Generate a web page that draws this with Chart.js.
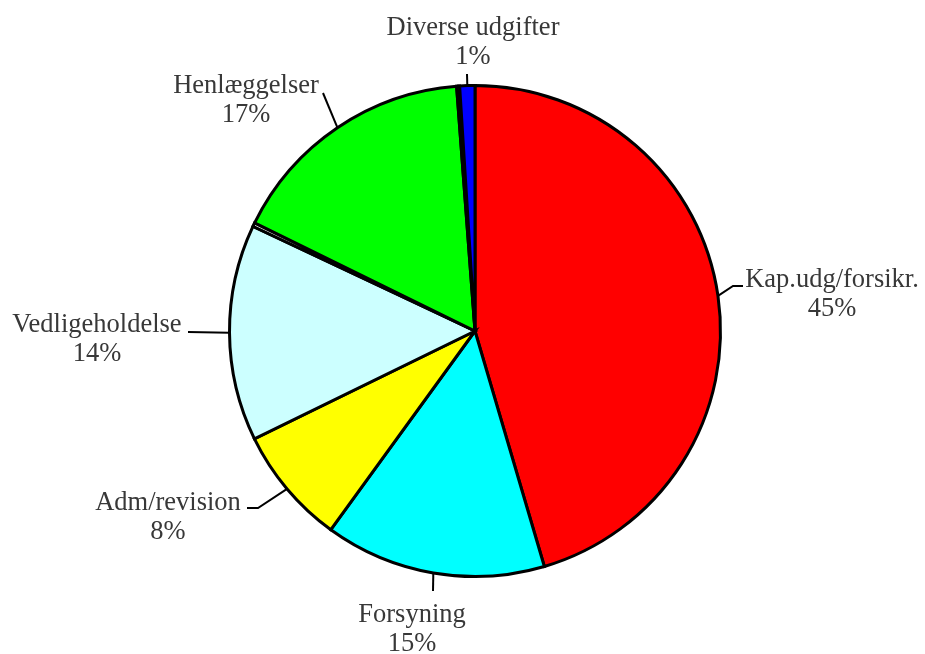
<!DOCTYPE html>
<html>
<head>
<meta charset="utf-8">
<script src="https://cdn.jsdelivr.net/npm/chart.js@4/dist/chart.umd.min.js"></script>
<style>
  body { margin: 0; background: #fff; }
  canvas { display: block; }
</style>
</head>
<body>
<canvas id="pie" width="925" height="654"></canvas>
<script>
// data, clockwise from 12 o'clock
const categories = ["Kap.udg/forsikr.", "Forsyning", "Adm/revision", "Vedligeholdelse", "", "Henlæggelser", "", "Diverse udgifter"];
const values = [45.6, 14.6, 7.8, 14.3, 0.25, 16.6, 0.2, 1.0];
const sliceColors = ["#ff0000", "#00ffff", "#ffff00", "#ccffff", "#ffffff", "#00ff00", "#ffffff", "#0000ff"];

// label layout: text centre x, first baseline y, leader points after the arc edge
const labelLayout = [
  { x: 832, y: 287, leader: [[733, 286], [743, 286]] },
  { x: 412, y: 622, leader: [[433, 591]] },
  { x: 168, y: 510, leader: [[258, 508], [247, 508]] },
  { x: 97, y: 332, leader: [[188, 332]] },
  null,
  { x: 246, y: 93, leader: [[323, 93]] },
  null,
  { x: 473, y: 35, leader: [[467, 74]] }
];

const total = values.reduce((a, b) => a + b, 0);

const labelPlugin = {
  id: "pieLabels",
  afterDraw(chart) {
    const ctx = chart.ctx;
    const arcs = chart.getDatasetMeta(0).data;
    ctx.save();
    arcs.forEach((arc, i) => {
      const lay = labelLayout[i];
      if (!lay || !categories[i]) return;
      const p = arc.getProps(["x", "y", "startAngle", "endAngle", "outerRadius"], true);
      const mid = (p.startAngle + p.endAngle) / 2;
      // leader line from the slice edge
      ctx.beginPath();
      ctx.moveTo(p.x + Math.cos(mid) * p.outerRadius, p.y + Math.sin(mid) * p.outerRadius);
      lay.leader.forEach(pt => ctx.lineTo(pt[0], pt[1]));
      ctx.strokeStyle = "#000";
      ctx.lineWidth = 2;
      ctx.stroke();
      // text
      ctx.fillStyle = "#383838";
      ctx.font = "26.5px 'Liberation Serif', 'Times New Roman', serif";
      ctx.textAlign = "center";
      ctx.textBaseline = "alphabetic";
      ctx.fillText(categories[i], lay.x, lay.y);
      ctx.fillText(Math.round(values[i] / total * 100) + "%", lay.x, lay.y + 29);
    });
    ctx.restore();
  }
};

new Chart(document.getElementById("pie"), {
  type: "pie",
  data: {
    labels: categories,
    datasets: [{
      data: values,
      backgroundColor: sliceColors,
      borderColor: "#000",
      borderWidth: 3,
      borderJoinStyle: "miter"
    }]
  },
  options: {
    responsive: false,
    animation: false,
    layout: { padding: { top: 84, bottom: 76, left: 175, right: 150 } },
    plugins: {
      legend: { display: false },
      tooltip: { enabled: false }
    }
  },
  plugins: [labelPlugin]
});
</script>
</body>
</html>
